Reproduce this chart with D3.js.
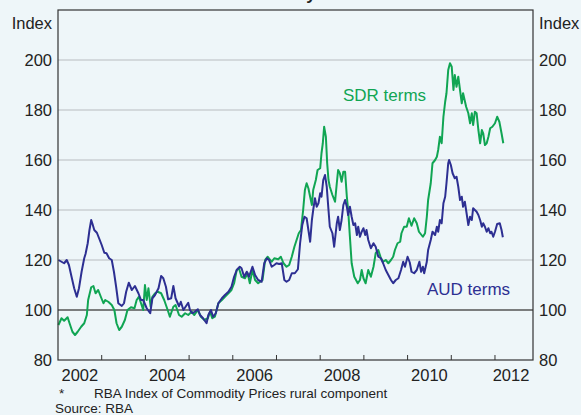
<!DOCTYPE html>
<html>
<head>
<meta charset="utf-8">
<script src="https://d3js.org/d3.v7.min.js"></script>
<style>
body { margin: 0; background: #eef6f9; }
text { font-family: Arial, "Liberation Sans", sans-serif; fill: #222; }
</style>
</head>
<body>
<svg width="581" height="415"></svg>
<script>
// SDR terms (green)
var sdrYears = [2002.01,2002.08,2002.14,2002.22,2002.27,2002.33,2002.39,2002.45,2002.53,2002.60,
  2002.66,2002.69,2002.76,2002.81,2002.86,2002.92,2002.98,2003.04,2003.08,2003.15,
  2003.23,2003.29,2003.34,2003.40,2003.46,2003.53,2003.59,2003.67,2003.75,2003.80,
  2003.85,2003.90,2003.95,2003.99,2004.03,2004.07,2004.12,2004.16,2004.22,2004.28,
  2004.36,2004.43,2004.51,2004.56,2004.64,2004.69,2004.77,2004.83,2004.91,2004.98,
  2005.06,2005.12,2005.20,2005.27,2005.35,2005.43,2005.48,2005.53,2005.59,2005.67,
  2005.75,2005.82,2005.90,2005.97,2006.03,2006.09,2006.14,2006.20,2006.28,2006.34,
  2006.39,2006.45,2006.51,2006.58,2006.68,2006.74,2006.80,2006.89,2006.95,2007.04,
  2007.10,2007.16,2007.23,2007.29,2007.35,2007.41,2007.46,2007.51,2007.56,2007.61,
  2007.65,2007.69,2007.73,2007.77,2007.81,2007.84,2007.90,2007.94,2008.00,2008.03,
  2008.06,2008.09,2008.13,2008.16,2008.19,2008.22,2008.28,2008.34,2008.38,2008.41,
  2008.45,2008.49,2008.53,2008.57,2008.61,2008.64,2008.68,2008.72,2008.78,2008.86,
  2008.91,2008.95,2008.99,2009.04,2009.10,2009.16,2009.22,2009.27,2009.33,2009.39,
  2009.44,2009.50,2009.56,2009.62,2009.67,2009.71,2009.77,2009.83,2009.86,2009.92,
  2009.98,2010.03,2010.09,2010.15,2010.21,2010.26,2010.35,2010.40,2010.44,2010.47,
  2010.53,2010.57,2010.63,2010.67,2010.70,2010.74,2010.78,2010.82,2010.86,2010.89,
  2010.93,2010.97,2011.01,2011.05,2011.08,2011.12,2011.16,2011.20,2011.24,2011.27,
  2011.34,2011.39,2011.43,2011.47,2011.50,2011.54,2011.58,2011.62,2011.66,2011.70,
  2011.73,2011.77,2011.81,2011.85,2011.89,2011.94,2012.00,2012.05,2012.10,2012.15,
  2012.19];
var sdrIndex = [94,96.7,95.7,97.1,94.4,91.3,90,91.3,93.3,94.7,
  98,104,109.1,109.6,106.7,108,105.3,102.7,104,103.3,
  102,100,94.7,92,93.3,96,100,101.1,100.7,104,
  105.3,102.7,100,110,104,108.7,101.3,105.3,106.7,107.3,
  106.7,104,100,97.3,101.3,102,98,97.3,98.7,98,
  99.3,98,100,97.3,96,96.7,99.3,96.7,97.3,102.7,
  104,105.3,106.7,108,110.7,116,116.7,113.3,112.7,114.7,
  110.7,116,112,110.7,112,120,121.3,119.3,120.7,120.3,
  121.3,118.7,117.3,118,121.3,125.3,128,130.7,132,140,
  148,150.7,148.7,145.3,142,148,152,156,156.7,162.7,
  166.7,173.3,169.3,158.7,152,149.3,146,143.3,150.7,156,
  154.7,151.3,155.3,155.3,145.3,140,129.3,118.7,113.3,110.7,
  112,116,112.7,110.7,116,113.3,117.3,122.7,124,120.7,
  119.3,120,118.7,120,121.3,124,126.7,127.3,130.7,133.3,
  133.3,136.7,133.7,136.7,134.7,131.3,129.3,130.7,137.3,144,
  150.7,158.7,160,161.3,164,169.3,166.7,177.3,183.3,186.7,
  196,198.7,197.3,188,194,189.3,193.3,188,182.7,186.7,
  181.3,178.7,174.7,178.7,174,179.3,178.7,172,166.7,172,
  170.7,166,166.7,169.3,172.7,173.3,174.7,177.3,175.3,170.7,
  166.7];

// AUD terms (navy)
var audYears = [2002.01,2002.08,2002.14,2002.20,2002.25,2002.31,2002.37,2002.43,2002.48,2002.54,
  2002.60,2002.63,2002.68,2002.72,2002.76,2002.79,2002.83,2002.89,2002.94,2003.00,
  2003.06,2003.11,2003.17,2003.23,2003.28,2003.33,2003.38,2003.46,2003.51,2003.56,
  2003.62,2003.69,2003.76,2003.84,2003.90,2003.95,2004.03,2004.11,2004.16,2004.22,
  2004.30,2004.36,2004.41,2004.47,2004.52,2004.59,2004.64,2004.69,2004.77,2004.81,
  2004.87,2004.92,2004.98,2005.02,2005.07,2005.13,2005.20,2005.25,2005.32,2005.40,
  2005.44,2005.50,2005.55,2005.61,2005.67,2005.75,2005.82,2005.90,2005.97,2006.03,
  2006.09,2006.16,2006.20,2006.26,2006.32,2006.37,2006.45,2006.51,2006.58,2006.66,
  2006.72,2006.78,2006.83,2006.89,2006.95,2007.00,2007.06,2007.12,2007.18,2007.23,
  2007.29,2007.35,2007.42,2007.49,2007.54,2007.59,2007.64,2007.69,2007.73,2007.77,
  2007.81,2007.84,2007.88,2007.92,2007.96,2008.00,2008.03,2008.07,2008.11,2008.15,
  2008.19,2008.22,2008.28,2008.32,2008.38,2008.41,2008.45,2008.49,2008.53,2008.57,
  2008.61,2008.64,2008.68,2008.72,2008.76,2008.80,2008.84,2008.87,2008.91,2008.95,
  2008.99,2009.03,2009.06,2009.10,2009.16,2009.22,2009.27,2009.33,2009.39,2009.44,
  2009.50,2009.56,2009.62,2009.67,2009.73,2009.79,2009.85,2009.90,2009.94,2010.00,
  2010.05,2010.09,2010.15,2010.21,2010.27,2010.31,2010.35,2010.38,2010.44,2010.47,
  2010.53,2010.57,2010.63,2010.67,2010.70,2010.74,2010.78,2010.82,2010.86,2010.89,
  2010.93,2010.95,2010.99,2011.03,2011.08,2011.12,2011.16,2011.20,2011.24,2011.27,
  2011.31,2011.35,2011.39,2011.43,2011.47,2011.50,2011.54,2011.58,2011.62,2011.66,
  2011.70,2011.73,2011.77,2011.81,2011.85,2011.89,2011.92,2011.96,2012.00,2012.05,
  2012.11,2012.15,2012.18];
var audIndex = [120,119.3,118.7,120,118,113.3,108.7,105.3,108.7,115.3,
  120.7,122.4,126.7,132,136,134.4,132,130.9,128.7,126,
  122.9,122.7,120.7,120,115.3,109.3,102.7,101.6,102.7,107.3,
  110.9,108,109.6,106.7,104,104,100.7,98.7,104.7,106,
  108.7,113.6,112.7,109.3,104.3,104.7,109.6,104.7,101.5,103.3,
  100,101.3,102.9,100,98.7,99.3,100.3,98,96.7,94.7,
  98,100,97.3,98.7,102.7,104.7,106,107.3,109.3,113.3,
  116,117.3,116.7,113.3,115.3,113.3,117.3,114,112,111.3,
  118.7,120.7,120,117.3,118,118.7,118.4,118.7,112,111.3,
  112,114.7,114.7,116.3,126.7,134,137.3,136.7,132,127.3,
  136,140,144.7,141.3,142.7,146.7,145.3,152,154,149.3,
  140,133.3,130.7,125.3,134.7,137.3,132,136,142,144,
  141.3,138,141.3,137.3,134,134.7,130,133.3,129.3,131.3,
  132.7,130,132,128,124.7,126.7,125.3,121.3,120.7,118.7,
  116,114,112,110.7,112,112.7,116,119.3,117.3,121.3,
  119,115.3,114.7,116,119.3,115.3,117.3,114.7,119.3,124,
  128,131.3,130,133.3,131.3,136,134.7,142.7,145.3,150.7,
  158.7,160,158,154.7,152.7,153.3,149.3,144,145.3,141.3,
  143.3,138.7,134,137.3,136,140.7,140,139.3,138,136,
  133.3,134.7,133.3,131.3,132.7,130.7,131.3,129.3,131.3,134.4,
  134.7,132,129.1];

var yTicks = [80, 100, 120, 140, 160, 180, 200];
var yearLabels = [2002, 2004, 2006, 2008, 2010, 2012];
var yearTicks = [2003, 2004, 2005, 2006, 2007, 2008, 2009, 2010, 2011, 2012];

var plotL = 58, plotR = 533, plotT = 10, plotB = 360;
var xStart = 2002, xEnd = 2012.87;

var x = d3.scaleLinear().domain([xStart, xEnd]).range([plotL, plotR]);
var y = d3.scaleLinear().domain([80, 220]).range([plotB, plotT]);

var svg = d3.select("svg");

// clipped title (only its descender shows at the top edge)
svg.append("text").attr("x", 276).attr("y", 0)
  .attr("text-anchor", "middle").style("font-size", "17px").style("font-weight", "bold")
  .text("Rural Commodity Prices*");

// gridlines
svg.append("g").selectAll("line").data(yTicks.filter(function(d){ return d > 80; })).enter().append("line")
  .attr("x1", plotL).attr("x2", plotR)
  .attr("y1", function(d){ return y(d); }).attr("y2", function(d){ return y(d); })
  .attr("stroke", function(d){ return d == 100 ? "#555" : "#b8bcc0"; })
  .attr("stroke-width", function(d){ return d == 100 ? 1.3 : 1; });

// series
function series(years, vals, color) {
  var pts = years.map(function(t, i){ return [t, vals[i]]; });
  svg.append("path").datum(pts)
    .attr("fill", "none").attr("stroke", color).attr("stroke-width", 2)
    .attr("stroke-linejoin", "round")
    .attr("d", d3.line().x(function(d){ return x(d[0]); }).y(function(d){ return y(d[1]); }));
}
series(sdrYears, sdrIndex, "#10a553");
series(audYears, audIndex, "#2d2f92");

// frame
svg.append("rect").attr("x", plotL).attr("y", plotT).attr("width", plotR - plotL).attr("height", plotB - plotT)
  .attr("fill", "none").attr("stroke", "#333").attr("stroke-width", 1.2);

// x ticks point up from the bottom axis
svg.append("g").selectAll("line").data(yearTicks).enter().append("line")
  .attr("x1", function(d){ return x(d); }).attr("x2", function(d){ return x(d); })
  .attr("y1", plotB).attr("y2", plotB - 5).attr("stroke", "#333");

svg.append("g").selectAll("text").data(yearLabels).enter().append("text")
  .attr("x", function(d){ return x((d + Math.min(d + 1, xEnd)) / 2) - (d == 2012 ? 3 : 0); })
  .attr("y", 381).attr("text-anchor", "middle").style("font-size", "16.5px")
  .text(function(d){ return d; });

// y labels both sides
svg.append("g").selectAll("text").data(yTicks).enter().append("text")
  .attr("x", plotL - 6).attr("y", function(d){ return y(d); }).attr("dy", "0.35em")
  .attr("text-anchor", "end").style("font-size", "16.5px").text(function(d){ return d; });
svg.append("g").selectAll("text").data(yTicks).enter().append("text")
  .attr("x", plotR + 6).attr("y", function(d){ return y(d); }).attr("dy", "0.35em")
  .attr("text-anchor", "start").style("font-size", "16.5px").text(function(d){ return d; });

svg.append("text").attr("x", plotL - 6).attr("y", 28.5).attr("text-anchor", "end")
  .style("font-size", "16.5px").text("Index");
svg.append("text").attr("x", plotR + 6).attr("y", 28.5).attr("text-anchor", "start")
  .style("font-size", "16.5px").text("Index");

// series labels
svg.append("text").attr("x", 343).attr("y", 101).style("font-size", "17px")
  .style("fill", "#10a553").text("SDR terms");
svg.append("text").attr("x", 427).attr("y", 295).style("font-size", "17px")
  .style("fill", "#2d2f92").text("AUD terms");

// notes
svg.append("text").attr("x", 59).attr("y", 398).style("font-size", "13.5px").text("*");
svg.append("text").attr("x", 94).attr("y", 398).style("font-size", "13.5px")
  .text("RBA Index of Commodity Prices rural component");
svg.append("text").attr("x", 55).attr("y", 413).style("font-size", "13.5px").text("Source: RBA");
</script>
</body>
</html>
